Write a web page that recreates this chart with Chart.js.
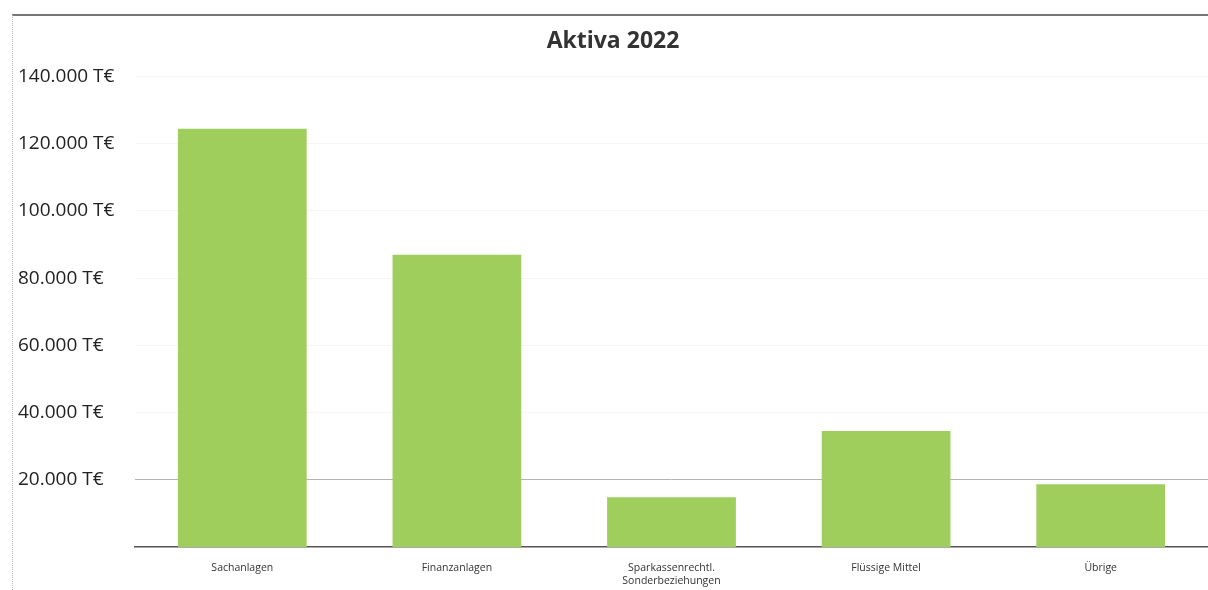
<!DOCTYPE html>
<html>
<head>
<meta charset="utf-8">
<script src="https://cdn.jsdelivr.net/npm/chart.js@4"></script>
<style>
  body { margin: 0; background: #fff; }
  #wrap { position: relative; width: 1208px; height: 590px; }
  #frame { position: absolute; left: 12px; top: 14px; right: 0; bottom: 0;
           border-top: 2px solid #777; border-left: 1px dotted #bbb; }
  canvas { position: absolute; left: 0; top: 0; }
</style>
</head>
<body>
<div id="wrap">
  <div id="frame"></div>
  <canvas id="bar_chart" width="1208" height="590"></canvas>
</div>
<script>
// values (T€)
var categories = ["Sachanlagen", "Finanzanlagen", ["Sparkassenrechtl.", "Sonderbeziehungen"], "Flüssige Mittel", "Übrige"];
var aktiva_2022 = [124500, 87000, 14800, 34500, 18700];
var tick_values = [20000, 40000, 60000, 80000, 100000, 120000, 140000];

function formatEuro(v) {
  return v.toLocaleString("de-DE") + " T€";
}

var ctx = document.getElementById("bar_chart");
var bar_chart = new Chart(ctx, {
  type: 'bar',
  data: {
    labels: categories,
    datasets: [
      {
        data: aktiva_2022,
        label: "Aktiva 2022",
        backgroundColor: "#9fce5c",
        borderWidth: 0,
        categoryPercentage: 1.0,
        barPercentage: 0.6
      }
    ]
  },
  options: {
    responsive: false,
    animation: false,
    layout: { padding: { left: 18, right: 0, top: 8, bottom: 0 } },
    plugins: {
      legend: { display: false },
      tooltip: { enabled: false },
      title: {
        display: true,
        text: "Aktiva 2022",
        color: "#333",
        font: { family: "Open Sans", size: 23, weight: "bold" },
        padding: { top: 20, bottom: 21 }
      }
    },
    scales: {
      x: {
        grid: { display: false },
        border: { display: true, color: "#555", width: 1.5 },
        afterFit: function(axis) { axis.height = 43; },
        ticks: {
          color: "#333",
          font: { family: "Open Sans", size: 10.5 },
          maxRotation: 0,
          padding: 7
        }
      },
      y: {
        min: 0,
        max: 140000,
        afterBuildTicks: function(axis) {
          axis.ticks = tick_values.map(function(v) { return { value: v }; });
        },
        afterFit: function(axis) { axis.width = 117; },
        border: { display: false },
        grid: {
          color: function(c) { return c.tick && c.tick.value === 20000 ? "#b5b5b5" : "#f5f5f5"; },
          lineWidth: 1,
          drawTicks: false
        },
        ticks: {
          color: "#222",
          crossAlign: "far",
          padding: 0,
          font: { family: "Open Sans", size: 19 },
          callback: function(v) { return formatEuro(v); }
        }
      }
    }
  }
});
</script>
</body>
</html>
